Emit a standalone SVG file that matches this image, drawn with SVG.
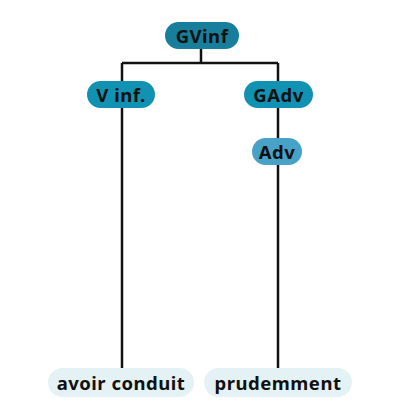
<svg xmlns="http://www.w3.org/2000/svg" width="400" height="418" viewBox="0 0 400 418">
<style>
.lbl{font-family:"Noto Sans","Liberation Sans",sans-serif;font-weight:700;font-size:18.5px;letter-spacing:0.5px;fill:#111;text-anchor:middle;dominant-baseline:central}
.edge{stroke:#111;stroke-width:2.5;fill:none}
</style>
<rect width="400" height="418" fill="#fff"/>
<g id="connectors">
<path class="edge" d="M201 48V63M122 63H278M122 63V368M278 63V368"/>
</g>
<g id="GVinf"><rect x="165" y="22" width="74" height="27" rx="13.5" fill="#177f9b"/><text class="lbl" x="202" y="35">GVinf</text></g>
<g id="Vinf"><rect x="87" y="81" width="68" height="27" rx="13.5" fill="#1192b3"/><text class="lbl" x="121" y="94">V inf.</text></g>
<g id="GAdv"><rect x="244" y="81" width="69" height="27" rx="13.5" fill="#1192b3"/><text class="lbl" x="278.5" y="94">GAdv</text></g>
<g id="Adv"><rect x="252" y="138" width="50" height="27" rx="13.5" fill="#48a2c8"/><text class="lbl" x="277" y="151">Adv</text></g>
<g id="avoir"><rect x="48" y="368" width="146" height="29" rx="14.5" fill="#e4f2f5"/><text class="lbl" x="121" y="382">avoir conduit</text></g>
<g id="prudemment"><rect x="204" y="368" width="148" height="29" rx="14.5" fill="#e4f2f5"/><text class="lbl" x="278" y="382">prudemment</text></g>
</svg>
